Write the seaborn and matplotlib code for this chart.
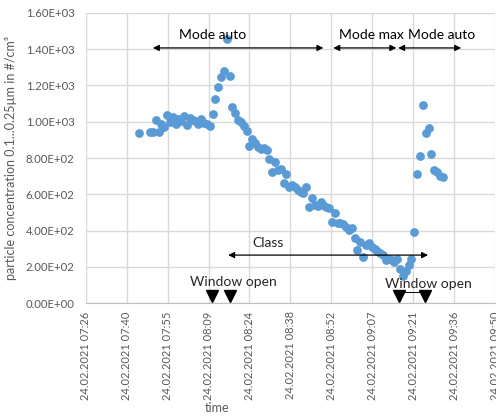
import pandas as pd
import matplotlib
matplotlib.use("Agg")
import matplotlib.pyplot as plt
import matplotlib.dates as mdates
import seaborn as sns

zeiten = ["07:45", "07:49", "07:50", "07:51", "07:52", "07:53", "07:54", "07:55",
          "07:56", "07:57", "07:58", "07:59", "08:00", "08:01", "08:02", "08:03",
          "08:04", "08:05", "08:06", "08:07", "08:08", "08:09", "08:10", "08:11",
          "08:12", "08:13", "08:14", "08:15", "08:16", "08:17", "08:18", "08:19",
          "08:20", "08:21", "08:22", "08:23", "08:24", "08:25", "08:26", "08:27",
          "08:28", "08:29", "08:30", "08:31", "08:32", "08:33", "08:34", "08:35",
          "08:36", "08:37", "08:38", "08:39", "08:40", "08:41", "08:42", "08:43",
          "08:44", "08:45", "08:46", "08:47", "08:48", "08:49", "08:50", "08:51",
          "08:52", "08:53", "08:54", "08:55", "08:56", "08:57", "08:58", "08:59",
          "09:00", "09:01", "09:02", "09:03", "09:04", "09:05", "09:06", "09:07",
          "09:08", "09:09", "09:10", "09:11", "09:12", "09:13", "09:14", "09:15",
          "09:16", "09:17", "09:18", "09:19", "09:20", "09:21", "09:22", "09:23",
          "09:24", "09:25", "09:26", "09:27", "09:28", "09:29", "09:30", "09:31",
          "09:32"]
werte = [940, 943, 943, 1010, 945, 988, 973, 1037,
         1000, 1028, 988, 1013, 1005, 1030, 982, 1018,
         1010, 1006, 990, 1015, 995, 986, 977, 1043,
         1124, 1190, 1245, 1282, 1455, 1254, 1080, 1046,
         1010, 1000, 977, 951, 866, 904, 881, 863,
         850, 853, 844, 795, 725, 776, 734, 739,
         660, 712, 642, 651, 642, 624, 615, 605,
         638, 532, 577, 541, 535, 559, 541, 530,
         522, 449, 498, 443, 441, 439, 421, 406,
         412, 357, 292, 338, 252, 320, 329, 311,
         296, 287, 278, 265, 237, 241, 237, 228,
         246, 186, 149, 178, 210, 246, 390, 712,
         813, 1092, 940, 964, 820, 734, 721, 702,
         693]

# Betriebsmodi / Ereignisse
modi = ["Mode auto", "Mode max", "Mode auto"]
modi_start = ["07:50", "08:53:30", "09:16:20"]
modi_ende = ["08:50", "09:15:40", "09:38:30"]
modi_text = ["08:11", "09:07", "09:31:40"]
klasse_start, klasse_ende = "08:16:30", "09:26:50"
fenster_links = ["08:10:50", "08:17:10"]
fenster_rechts = ["09:16:40", "09:25:40"]

tag = "2021-02-24 "
def zt(s):
    return mdates.date2num(pd.Timestamp(tag + s))

df = pd.DataFrame({"time": pd.to_datetime([tag + z for z in zeiten]),
                   "wert": werte})

sns.set_style("white")
plt.rcParams["font.family"] = ["Lato", "DejaVu Sans"]

fig = plt.figure(figsize=(4.96, 4.17), dpi=100)
ax = fig.add_axes([0.173, 0.273, 0.825, 0.696])

sns.scatterplot(data=df, x="time", y="wert", ax=ax, color="#5B9BD5",
                s=40, linewidth=0, zorder=3)

start = pd.Timestamp(tag + "00:00")
x0 = mdates.date2num(start + pd.Timedelta(days=0.31))
x1 = mdates.date2num(start + pd.Timedelta(days=0.41))
ax.set_xlim(x0, x1)
ax.set_ylim(0, 1600)
ax.set_xticks([x0 + i * 0.01 for i in range(11)])
ax.xaxis.set_major_formatter(mdates.DateFormatter("%d.%m.%Y %H:%M"))
ax.set_yticks(range(0, 1601, 200))
ax.yaxis.set_major_formatter(lambda v, p: f"{v:.2E}")
ax.tick_params(axis="x", rotation=90, labelsize=8, colors="#595959", length=0, pad=6)
ax.tick_params(axis="y", labelsize=8.2, colors="#595959", length=0, pad=8)

ax.grid(True, color="#D9D9D9", linewidth=1)
for sp in ["top", "right", "left"]:
    ax.spines[sp].set_visible(False)
ax.spines["bottom"].set_color("#BFBFBF")

ax.set_xlabel("time", fontsize=9, color="#595959")
ax.xaxis.set_label_coords(0.32, -0.34)
ax.set_ylabel("particle concentration 0.1...0.25µm in #/cm³", fontsize=9,
              color="#595959", labelpad=6)

pfeil = dict(arrowstyle="<|-|>", color="black", lw=0.9, mutation_scale=9,
             shrinkA=0, shrinkB=0)
for a, b in zip(modi_start, modi_ende):
    ax.annotate("", xy=(zt(a), 1407), xytext=(zt(b), 1407), arrowprops=pfeil)
for name, tx in zip(modi, modi_text):
    ax.text(zt(tx), 1479, name, ha="center", va="center", fontsize=10, color="black")

ax.annotate("", xy=(zt(klasse_start), 265), xytext=(zt(klasse_ende), 265),
            arrowprops=pfeil)
ax.text(zt("08:30:30"), 331, "Class", ha="center", va="center", fontsize=10)

ax.text(zt("08:18:30"), 116, "Window open", ha="center", va="center", fontsize=10)
ax.text(zt("09:26:50"), 105, "Window open", ha="center", va="center", fontsize=10)
ax.plot([zt(t) for t in fenster_links], [38, 38], "v", color="black",
        markersize=9, clip_on=False, zorder=4)
ax.plot([zt(t) for t in fenster_rechts], [38, 38], "v", color="black",
        markersize=9, clip_on=False, zorder=4)
ax.plot([zt(t) for t in fenster_rechts], [60, 60], color="black",
        linewidth=0.7, zorder=4)

fig.savefig("out.png", dpi=100)
